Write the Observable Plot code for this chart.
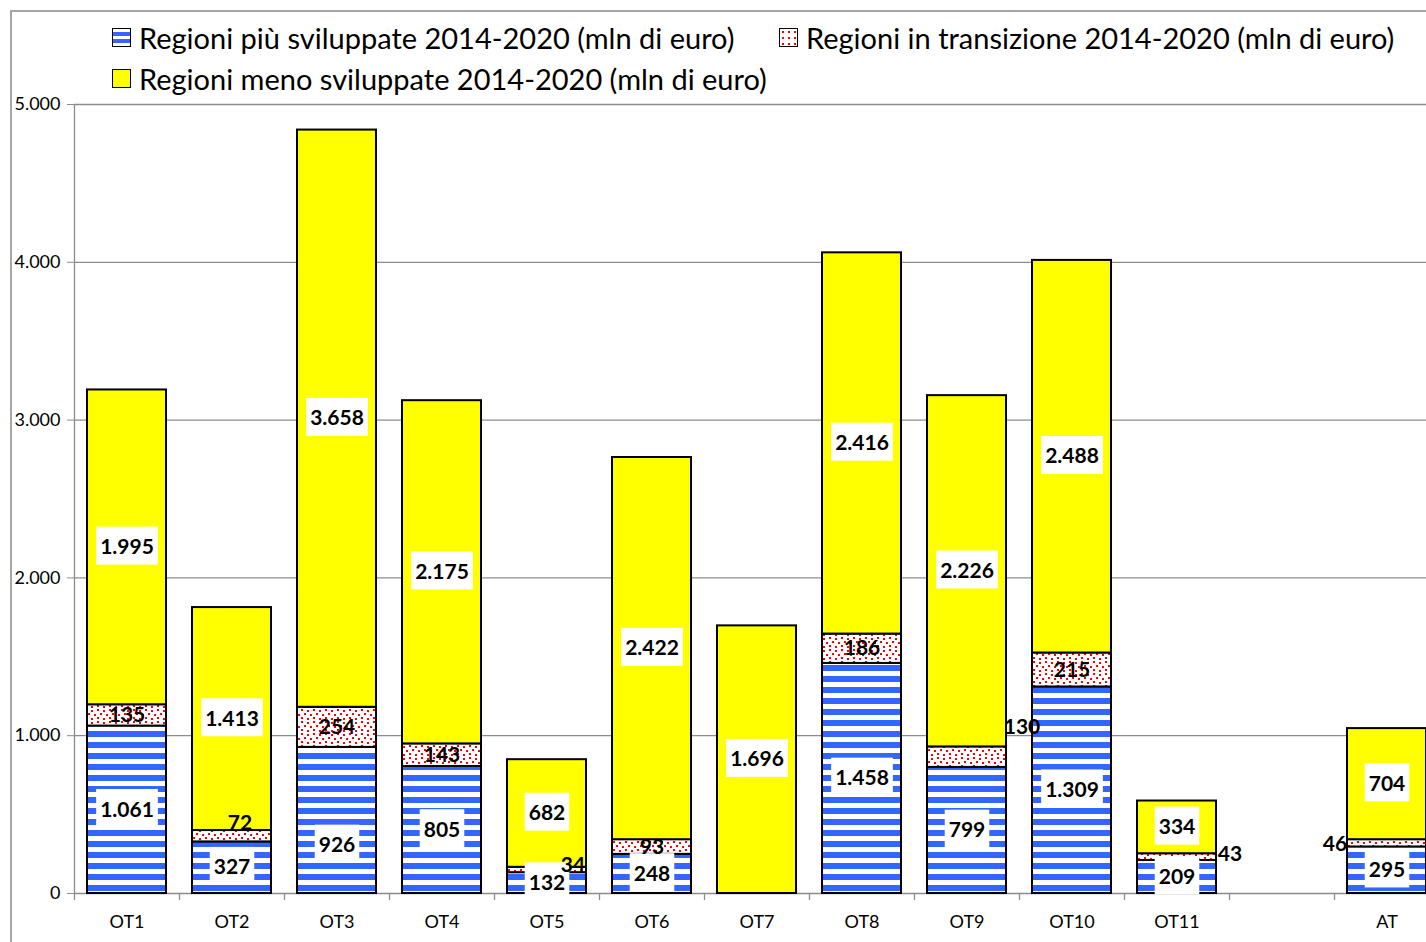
<!DOCTYPE html>
<html><head><meta charset="utf-8">
<script src="https://cdn.jsdelivr.net/npm/d3@7"></script>
<script src="https://cdn.jsdelivr.net/npm/@observablehq/plot@0.6"></script>
<style>
html,body{margin:0;padding:0;background:#fff;overflow:hidden;width:1426px;height:942px;position:relative;}
#frame{position:absolute;left:10px;top:10px;width:2000px;height:2000px;border-left:2px solid #a6a6a6;border-top:2px solid #a6a6a6;}
#chart{position:absolute;left:0;top:0;width:1440px;}
#chart svg{max-width:none !important;}
.legend{position:absolute;font-family:Lato,sans-serif;font-size:29px;color:#000;display:flex;align-items:center;white-space:nowrap;height:30px;}
.sw{width:17px;height:17px;border:1.5px solid #000;margin-right:8px;box-sizing:content-box;}
.sw.blue{background:repeating-linear-gradient(to bottom,#fff 0 3px,#3366ff 3px 7px);}
.sw.dots{background-color:#fff;background-image:radial-gradient(circle,#ff0000 0 1.2px,transparent 1.4px);background-size:6px 6px;}
.sw.yellow{background:#ffff00;}
</style></head>
<body>
<div id="frame"></div>
<div id="chart"></div>
<div class="legend" style="left:112px;top:22px;"><div class="sw blue"></div><span>Regioni più sviluppate 2014-2020 (mln di euro)</span></div>
<div class="legend" style="left:779px;top:22px;"><div class="sw dots"></div><span>Regioni in transizione 2014-2020 (mln di euro)</span></div>
<div class="legend" style="left:112px;top:63px;"><div class="sw yellow"></div><span>Regioni meno sviluppate 2014-2020 (mln di euro)</span></div>
<script>
const categories = ["OT1","OT2","OT3","OT4","OT5","OT6","OT7","OT8","OT9","OT10","OT11"," ","AT"];
const piuSviluppate  = [1061, 327, 926, 805, 132, 248,    0, 1458,  799, 1309, 209, null, 295];
const inTransizione  = [ 135,  72, 254, 143,  34,  93,    0,  186,  130,  215,  43, null,  46];
const menoSviluppate = [1995,1413,3658,2175, 682,2422, 1696, 2416, 2226, 2488, 334, null, 704];
const yTicks = [0, 1000, 2000, 3000, 4000, 5000];

// label placement tweaks (pixels)
const transLabelOffsets = {"OT2":[8,-13], "OT5":[26,-5], "OT9":[55,-30], "OT11":[53,-3], "AT":[-52,1]};
const piuLabelOffsets = {"OT3":[0,25]};

const it = d3.formatLocale({decimal:",", thousands:".", grouping:[3], currency:["€",""]});
const fmt = it.format(",d");

const rows = [];
categories.forEach((c, i) => {
  if (piuSviluppate[i] == null) return;
  let base = 0;
  [["piu", piuSviluppate[i]], ["trans", inTransizione[i]], ["meno", menoSviluppate[i]]].forEach(([s, v]) => {
    if (v > 0) rows.push({cat: c, series: s, value: v, y1: base, y2: base + v, mid: base + v / 2});
    base += v;
  });
});

const FONT = "Lato, sans-serif";
const GRAY = "#8c8c8c";
const half = 52.5;
const LBL = 21;

const defs = () => {
  const ns = "http://www.w3.org/2000/svg";
  const g = document.createElementNS(ns, "g");
  g.innerHTML = `<defs>
    <pattern id="blueStripes" patternUnits="userSpaceOnUse" x="0" y="0" width="20" height="11">
      <rect width="20" height="11" fill="#fff"/>
      <rect y="5" width="20" height="6" fill="#3366ff"/>
    </pattern>
    <pattern id="redDots" patternUnits="userSpaceOnUse" width="12" height="12">
      <rect width="12" height="12" fill="#fff"/>
      <rect x="1" y="1" width="2" height="2" fill="#ff0000"/>
      <rect x="7" y="2" width="2" height="2" fill="#ff0000"/>
      <rect x="4" y="5" width="2" height="2" fill="#ff0000"/>
      <rect x="10" y="6" width="2" height="2" fill="#ff0000"/>
      <rect x="1" y="9" width="2" height="2" fill="#ff0000"/>
      <rect x="7" y="10" width="2" height="2" fill="#ff0000"/>
    </pattern>
  </defs>`;
  return g;
};

const fills = {piu: "url(#blueStripes)", trans: "url(#redDots)", meno: "#ffff00"};
const lblOpts = {x: "cat", y: "mid", text: d => fmt(d.value), fontSize: LBL, fontWeight: "bold", fontFamily: FONT, fill: "#000"};

const marks = [
  defs,
  Plot.ruleY(yTicks, {y: d => d, stroke: GRAY, strokeWidth: 1.3}),
  Plot.ruleX([categories[0]], {x: d => d, dx: -half, y1: 0, y2: 5000, stroke: GRAY, strokeWidth: 1.3}),
  Plot.ruleX(categories, {x: d => d, dx: -half, y1: 0, y2: -45, stroke: GRAY, strokeWidth: 1.3}),
  Plot.axisY({ticks: yTicks, tickFormat: fmt, tickSize: 7, tickPadding: 7, fontSize: 18, fontFamily: FONT, stroke: GRAY, fill: "#000", label: null}),
  Plot.axisX({tickSize: 0, tickPadding: 22, fontSize: 18, fontFamily: FONT, fill: "#000", label: null}),
  ...["piu", "trans", "meno"].map(s => Plot.barY(rows.filter(d => d.series === s), {
    x: "cat", y1: "y1", y2: "y2", fill: fills[s], stroke: "#000", strokeWidth: 2
  })),
  Plot.text(rows.filter(d => d.series === "meno" || (d.series === "piu" && !piuLabelOffsets[d.cat])), {
    ...lblOpts, ariaDescription: "boxed"
  }),
  ...Object.entries(piuLabelOffsets).map(([c, [dx, dy]]) => Plot.text(rows.filter(d => d.series === "piu" && d.cat === c), {
    ...lblOpts, dx, dy, ariaDescription: "boxed"
  })),
  Plot.text(rows.filter(d => d.series === "trans" && !transLabelOffsets[d.cat]), lblOpts),
  ...Object.entries(transLabelOffsets).map(([c, [dx, dy]]) => Plot.text(rows.filter(d => d.series === "trans" && d.cat === c), {
    ...lblOpts, dx, dy
  }))
];

const chart = Plot.plot({
  width: 1440, height: 942,
  marginLeft: 74, marginRight: 1, marginTop: 104, marginBottom: 49,
  style: {background: "transparent", overflow: "visible", maxWidth: "none"},
  x: {domain: categories, paddingInner: 0.25, paddingOuter: 0.125, axis: null},
  y: {domain: [0, 5000], axis: null},
  marks
});
document.getElementById("chart").append(chart);

// white boxes behind the blue and yellow labels
const ns = "http://www.w3.org/2000/svg";
const svg = chart.tagName.toLowerCase() === "svg" ? chart : chart.querySelector("svg");
svg.querySelectorAll('g[aria-description="boxed"]').forEach(lg => {
  const boxes = document.createElementNS(ns, "g");
  const gtr = lg.getAttribute("transform");
  if (gtr) boxes.setAttribute("transform", gtr);
  lg.parentNode.insertBefore(boxes, lg);
  lg.querySelectorAll("text").forEach(t => {
    const b = t.getBBox();
    const tr = t.getAttribute("transform");
    const r = document.createElementNS(ns, "rect");
    const cy = b.y + b.height / 2;
    r.setAttribute("x", b.x - 4);
    r.setAttribute("y", cy - 19);
    r.setAttribute("width", b.width + 8);
    r.setAttribute("height", 38);
    r.setAttribute("fill", "#fff");
    if (tr) r.setAttribute("transform", tr);
    boxes.appendChild(r);
  });
});
</script>
</body></html>
